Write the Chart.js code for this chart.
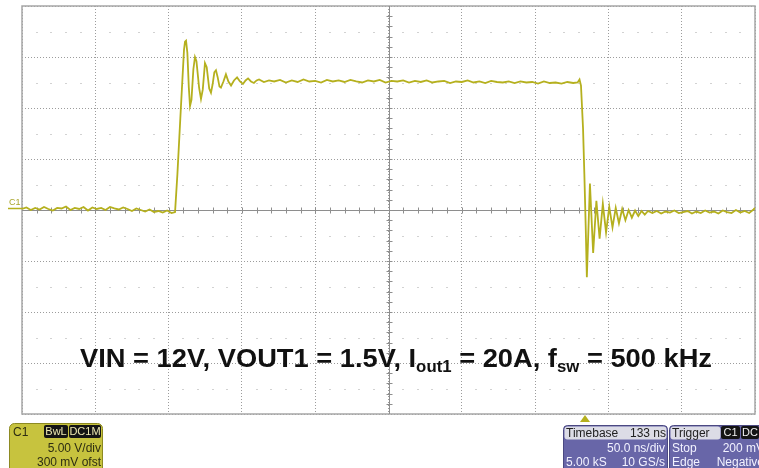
<!DOCTYPE html>
<html>
<head>
<meta charset="utf-8">
<script src="https://cdn.jsdelivr.net/npm/chart.js@4.4.1/dist/chart.umd.min.js"></script>
<style>
  html, body { margin: 0; padding: 0; background: #fff; }
</style>
</head>
<body>
<canvas id="scope" width="759" height="468"></canvas>
<script>
// C1 trace, time in ns (0 = left edge, 50 ns/div), voltage in V (5 V/div)
const leadT = [0, 3, 6, 9, 12, 15, 18, 21, 24, 27, 30, 33, 36, 39, 42, 45, 48, 51, 54, 57, 60, 63, 66, 69, 72, 75, 78, 81, 84, 87, 90, 93, 96, 99, 102];
const leadV = [0.1, 0.25, 0.0, 0.2, 0.05, 0.3, 0.1, -0.05, 0.2, 0.15, 0.35, 0.0, 0.2, 0.1, 0.3, -0.05, 0.25, 0.1, 0.2, 0.0, 0.3, 0.15, 0.05, 0.25, 0.1, -0.1, 0.15, 0.0, -0.15, 0.05, -0.2, -0.1, -0.25, -0.05, -0.3];

const riseT = [104.4, 106, 108, 110.5, 111.2, 111.9, 112.8, 113.8, 114.6, 115.6, 116.9, 118.0, 119.0, 120.8, 122.1, 123.3, 124.8, 126.0, 127.7, 128.9, 130.0, 131.2, 132.3, 133.5, 134.7, 135.7, 137.4, 139.1, 140.8, 142.6, 144.6, 146.7, 148.7, 150.7, 152.5, 154.2, 156.2, 158.2, 160.0, 161.7, 165.0, 168.5];
const riseV = [-0.2, 3.5, 9.0, 15.7, 16.5, 16.6, 15.4, 12.0, 10.2, 10.8, 13.8, 15.0, 14.6, 12.0, 10.9, 11.8, 14.4, 14.0, 11.9, 11.5, 12.3, 13.5, 13.7, 13.0, 12.1, 12.0, 12.6, 13.3, 12.6, 12.2, 12.7, 13.0, 12.6, 12.35, 12.7, 12.9, 12.6, 12.45, 12.7, 12.8, 12.55, 12.7];

const topT = [172, 176, 180, 184, 188, 192, 196, 200, 204, 208, 212, 216, 220, 224, 228, 232, 236, 240, 244, 248, 252, 256, 260, 264, 268, 272, 276, 280, 284, 288, 292, 296, 300, 304, 308, 312, 316, 320, 324, 328, 332, 336, 340, 344, 348, 352, 356, 360, 364, 368, 372, 376, 379];
const topV = [12.6, 12.75, 12.5, 12.7, 12.55, 12.8, 12.6, 12.65, 12.5, 12.75, 12.6, 12.7, 12.55, 12.75, 12.6, 12.5, 12.7, 12.6, 12.75, 12.5, 12.65, 12.6, 12.7, 12.5, 12.65, 12.55, 12.7, 12.5, 12.6, 12.65, 12.45, 12.6, 12.55, 12.7, 12.5, 12.6, 12.45, 12.65, 12.55, 12.5, 12.6, 12.45, 12.6, 12.5, 12.55, 12.4, 12.6, 12.45, 12.5, 12.4, 12.55, 12.45, 12.5];

const fallT = [380.3, 381.3, 382.7, 383.6, 384.5, 385.3, 387.4, 389.6, 391.8, 394.0, 396.2, 398.4, 400.6, 402.8, 405.0, 407.2, 409.4, 411.6, 413.8, 416.0, 418.2, 420.4, 422.6, 424.8, 427.0];
const fallV = [12.8, 12.2, 8.0, 3.5, -1.5, -6.6, 2.6, -4.2, 0.9, -2.8, 0.6, -2.2, 0.3, -1.7, 0.2, -1.3, 0.1, -1.0, 0.0, -0.75, -0.05, -0.6, -0.1, -0.45, -0.1];

const tailT = [430, 433, 436, 439, 442, 445, 448, 451, 454, 457, 460, 463, 466, 469, 472, 475, 478, 481, 484, 487, 490, 493, 496, 499, 500];
const tailV = [-0.3, -0.1, -0.35, -0.15, -0.25, -0.05, -0.3, -0.2, -0.1, -0.35, -0.15, -0.3, -0.05, -0.25, -0.15, -0.35, -0.05, -0.2, -0.3, 0.0, -0.25, -0.1, -0.3, 0.05, 0.2];

const timeNs = [].concat(leadT, riseT, topT, fallT, tailT);
const ch1Volts = [].concat(leadV, riseV, topV, fallV, tailV);

const traceColor = 'rgb(181, 176, 30)';

// scope screen decorations: frame, center axes, info boxes, caption
const scopeDecor = {
  id: 'scopeDecor',
  beforeDatasetsDraw(chart) {
    const { ctx, chartArea: a, scales: { x, y } } = chart;
    ctx.save();
    // faint dots on half-division rows
    ctx.fillStyle = '#d2d2d2';
    for (let v = -17.5; v <= 17.5; v += 5) {
      const py = Math.round(y.getPixelForValue(v));
      for (let t = 10; t < 500; t += 10) {
        if (t % 50 === 0) continue;
        ctx.fillRect(Math.round(x.getPixelForValue(t)) - 1, py, 2, 1);
      }
    }
    // frame
    ctx.strokeStyle = '#a6a6a6';
    ctx.lineWidth = 1.5;
    ctx.strokeRect(a.left, a.top, a.right - a.left, a.bottom - a.top);
    // center cross with minor ticks
    const cx = Math.round(x.getPixelForValue(250)) + 0.5;
    const cy = Math.round(y.getPixelForValue(0)) + 0.5;
    ctx.strokeStyle = '#8e8e8e';
    ctx.lineWidth = 1;
    ctx.beginPath();
    ctx.moveTo(a.left, cy); ctx.lineTo(a.right, cy);
    ctx.moveTo(cx, a.top); ctx.lineTo(cx, a.bottom);
    for (let t = 10; t < 500; t += 10) {
      const px = Math.round(x.getPixelForValue(t)) + 0.5;
      ctx.moveTo(px, cy - 3); ctx.lineTo(px, cy + 3);
    }
    for (let v = -19; v < 20; v++) {
      const py = Math.round(y.getPixelForValue(v)) + 0.5;
      ctx.moveTo(cx - 3, py); ctx.lineTo(cx + 3, py);
    }
    ctx.stroke();
    ctx.restore();
  },
  afterDraw(chart) {
    const { ctx, scales: { x, y } } = chart;
    ctx.save();

    // channel ground marker
    const gy = Math.round(y.getPixelForValue(0.2)) + 0.5;
    ctx.strokeStyle = traceColor;
    ctx.lineWidth = 1.5;
    ctx.beginPath(); ctx.moveTo(8, gy); ctx.lineTo(22, gy); ctx.stroke();
    ctx.fillStyle = '#a9a52c';
    ctx.font = '9px "Liberation Sans"';
    ctx.fillText('C1', 9, gy - 4);

    // caption
    const mainFont = 'bold 26px "Liberation Sans"';
    const subFont = 'bold 16px "Liberation Sans"';
    const parts = [
      ['VIN = 12V, VOUT1 = 1.5V, I', mainFont, 0],
      ['out1', subFont, 5],
      [' = 20A, f', mainFont, 0],
      ['sw', subFont, 5],
      [' = 500 kHz', mainFont, 0]
    ];
    let total = 0;
    parts.forEach(p => { ctx.font = p[1]; total += ctx.measureText(p[0]).width; });
    const sx = 632 / total;
    ctx.save();
    ctx.translate(80, 367);
    ctx.scale(sx, 1);
    ctx.fillStyle = '#111';
    let cx = 0;
    parts.forEach(p => {
      ctx.font = p[1];
      ctx.fillText(p[0], cx, p[2]);
      cx += ctx.measureText(p[0]).width;
    });
    ctx.restore();

    // trigger position marker
    ctx.fillStyle = traceColor;
    ctx.beginPath();
    ctx.moveTo(580, 422); ctx.lineTo(590, 422); ctx.lineTo(585, 415);
    ctx.closePath(); ctx.fill();

    const box = (x0, y0, w, h, r, fill, stroke) => {
      ctx.beginPath();
      ctx.roundRect(x0, y0, w, h, r);
      ctx.fillStyle = fill; ctx.fill();
      if (stroke) { ctx.strokeStyle = stroke; ctx.lineWidth = 1; ctx.stroke(); }
    };
    const txt = (s, x0, y0, color, align) => {
      ctx.fillStyle = color;
      ctx.textAlign = align || 'left';
      ctx.fillText(s, x0, y0);
    };
    ctx.font = '12px "Liberation Sans"';

    // channel box
    box(9.5, 423.5, 93, 50, 5, '#c7c33e', '#8d8a22');
    txt('C1', 13, 436, '#2d2d12');
    box(44, 425, 24, 13, 2, '#141414');
    box(69, 425, 32, 13, 2, '#141414');
    ctx.font = '11px "Liberation Sans"';
    txt('BwL', 56, 435, '#ece8b0', 'center');
    txt('DC1M', 85, 435, '#ece8b0', 'center');
    ctx.font = '12px "Liberation Sans"';
    txt('5.00 V/div', 101, 452, '#2d2d12', 'right');
    txt('300 mV ofst', 101, 466, '#2d2d12', 'right');

    // timebase box
    box(563.5, 425.5, 104, 48, 4, '#6866a8', '#4b4982');
    box(564.5, 426.5, 102, 13, 3, '#dcdce6');
    txt('Timebase', 566, 437, '#222');
    txt('133 ns', 666, 437, '#222', 'right');
    txt('50.0 ns/div', 665, 452, '#f2f2ff', 'right');
    txt('5.00 kS', 566, 466, '#f2f2ff');
    txt('10 GS/s', 665, 466, '#f2f2ff', 'right');

    // trigger box
    box(669.5, 425.5, 100, 48, 4, '#6866a8', '#4b4982');
    box(670.5, 426.5, 50, 13, 3, '#dcdce6');
    txt('Trigger', 672, 437, '#222');
    box(721, 426, 19, 13, 2, '#141414');
    box(741, 426, 18, 13, 2, '#141414');
    ctx.font = '11px "Liberation Sans"';
    txt('C1', 730.5, 436, '#f0f0f0', 'center');
    txt('DC', 750, 436, '#f0f0f0', 'center');
    ctx.font = '12px "Liberation Sans"';
    txt('Stop', 672, 452, '#f2f2ff');
    txt('200 mV', 764, 452, '#f2f2ff', 'right');
    txt('Edge', 672, 466, '#f2f2ff');
    txt('Negative', 764, 466, '#f2f2ff', 'right');

    ctx.restore();
  }
};

new Chart(document.getElementById('scope'), {
  type: 'scatter',
  data: {
    datasets: [{
      label: 'C1',
      data: timeNs.map((t, i) => ({ x: t, y: ch1Volts[i] })),
      showLine: true,
      borderColor: traceColor,
      borderWidth: 1.8,
      pointRadius: 0,
      tension: 0
    }]
  },
  options: {
    responsive: false,
    animation: false,
    devicePixelRatio: 1,
    layout: { padding: { left: 22, top: 6, right: 4, bottom: 54 } },
    plugins: {
      legend: { display: false },
      tooltip: { enabled: false }
    },
    scales: {
      x: {
        type: 'linear',
        min: 0,
        max: 500,
        ticks: { display: false, stepSize: 50 },
        grid: { color: '#9c9c9c', lineWidth: 1, drawTicks: false },
        border: { display: false, dash: [1, 2] }
      },
      y: {
        type: 'linear',
        min: -20,
        max: 20,
        ticks: { display: false, stepSize: 5 },
        grid: { color: '#9c9c9c', lineWidth: 1, drawTicks: false },
        border: { display: false, dash: [1, 2] }
      }
    }
  },
  plugins: [scopeDecor]
});
</script>
</body>
</html>
